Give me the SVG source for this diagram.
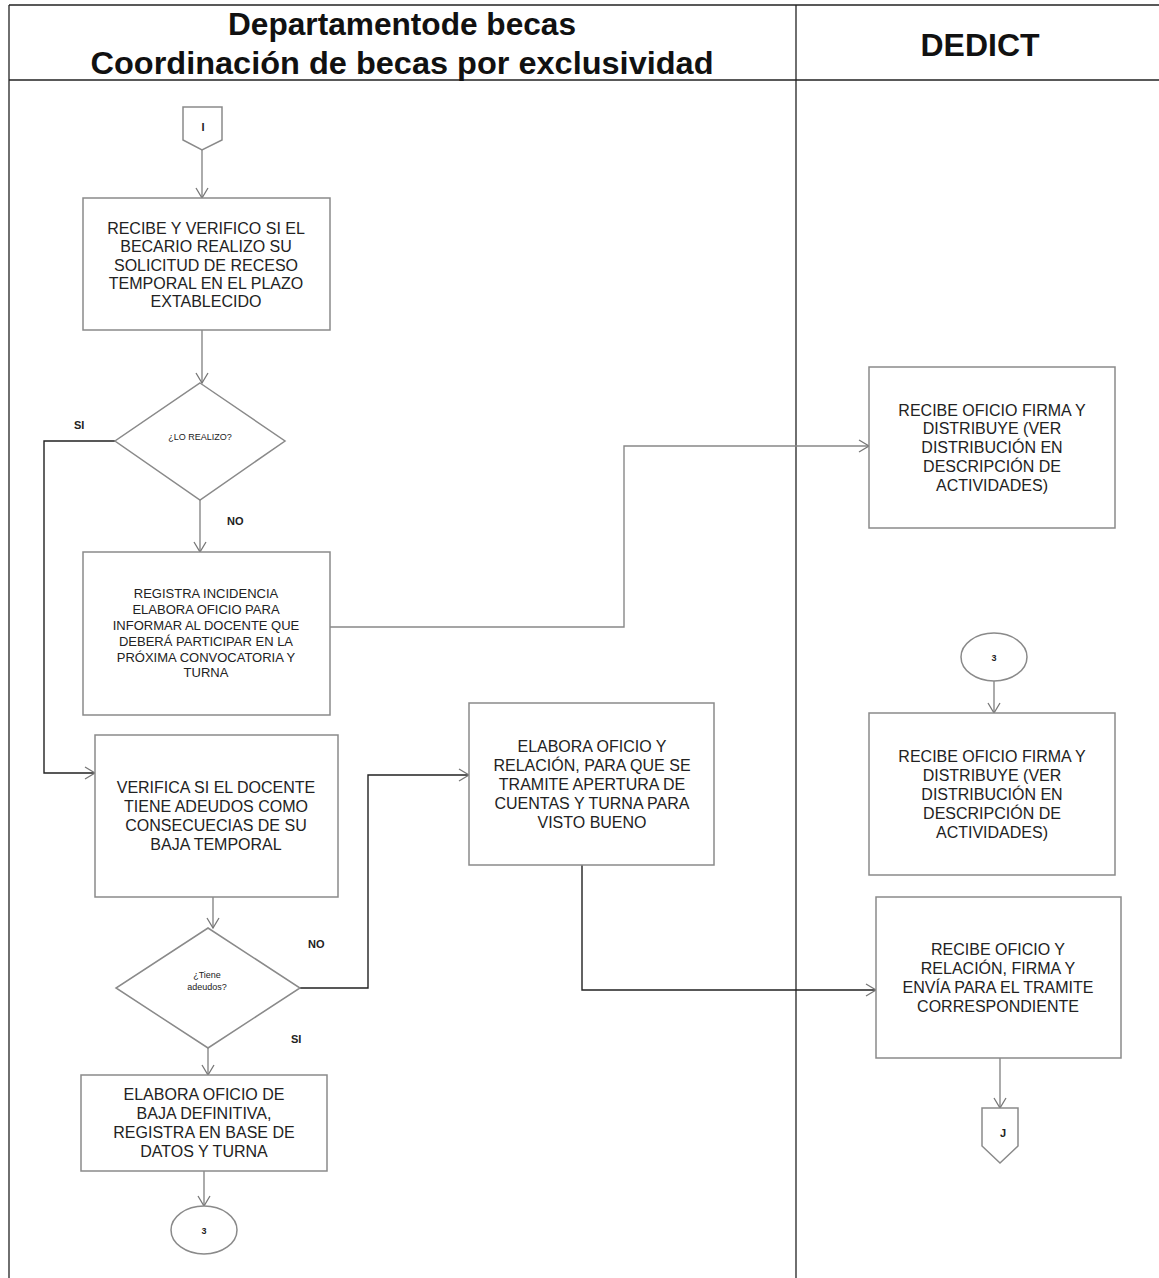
<svg xmlns="http://www.w3.org/2000/svg" width="1159" height="1278" viewBox="0 0 1159 1278">
<style>
.lane{stroke:#222;stroke-width:1.3;fill:none}
.box{fill:#fff;stroke:#8a8a8a;stroke-width:1.5}
.t{font-family:"Liberation Sans",Arial,sans-serif;font-size:16px;fill:#222;text-anchor:middle}
.ts{font-family:"Liberation Sans",Arial,sans-serif;font-size:13px;fill:#222;text-anchor:middle}
.tx{font-family:"Liberation Sans",Arial,sans-serif;font-size:9px;fill:#222;text-anchor:middle}
.lbl{font-family:"Liberation Sans",Arial,sans-serif;font-size:11px;font-weight:bold;fill:#222}
.hd{font-family:"Liberation Sans",Arial,sans-serif;font-size:31px;font-weight:bold;fill:#111;text-anchor:middle}
.c{fill:none;stroke:#888;stroke-width:1.4}
.cd{fill:none;stroke:#222;stroke-width:1.4}
</style>
<defs>
<marker id="ah" markerUnits="userSpaceOnUse" markerWidth="14" markerHeight="16" refX="11" refY="7" orient="auto">
<path d="M1,1 L11,7 L1,13" fill="none" stroke="#777" stroke-width="1.3"/>
</marker>
</defs>
<rect width="1159" height="1278" fill="#fff"/>
<g id="lanes">
<line class="lane" x1="9" y1="5" x2="1159" y2="5"/>
<line class="lane" x1="9" y1="80" x2="1159" y2="80"/>
<line class="lane" x1="9" y1="5" x2="9" y2="1278"/>
<line class="lane" x1="796" y1="5" x2="796" y2="1278"/>
<text class="hd" x="402" y="35" textLength="348" lengthAdjust="spacingAndGlyphs">Departamentode becas</text>
<text class="hd" x="402" y="74" textLength="623" lengthAdjust="spacingAndGlyphs">Coordinación de becas por exclusividad</text>
<text class="hd" x="980" y="56" textLength="119" lengthAdjust="spacingAndGlyphs">DEDICT</text>
</g>
<g id="connectors">
<path class="c" d="M202,150 V198" marker-end="url(#ah)"/>
<path class="c" d="M202,330 V383" marker-end="url(#ah)"/>
<path class="cd" d="M115,441 H44 V773 H95" marker-end="url(#ah)"/>
<path class="c" d="M200,500 V552" marker-end="url(#ah)"/>
<path class="c" d="M330,627 H624 V446 H869" marker-end="url(#ah)"/>
<path class="c" d="M213,897 V928" marker-end="url(#ah)"/>
<path class="cd" d="M300,988 H368 V775 H469" marker-end="url(#ah)"/>
<path class="c" d="M208,1048 V1075" marker-end="url(#ah)"/>
<path class="c" d="M204,1171 V1206" marker-end="url(#ah)"/>
<path class="cd" d="M582,865 V990 H876" marker-end="url(#ah)"/>
<path class="c" d="M994,681 V713" marker-end="url(#ah)"/>
<path class="c" d="M1000,1058 V1108" marker-end="url(#ah)"/>
<text class="lbl" x="74" y="429">SI</text>
<text class="lbl" x="227" y="525">NO</text>
<text class="lbl" x="308" y="948">NO</text>
<text class="lbl" x="291" y="1043">SI</text>
</g>
<g id="start">
<path class="box" d="M183,107 H222 V140 L202,150 L183,140 Z"/>
<text class="lbl" x="203" y="131" text-anchor="middle" font-size="12">I</text>
</g>
<g id="box1">
<rect class="box" x="83" y="198" width="247" height="132"/>
<text class="t" x="206" y="234">RECIBE Y VERIFICO SI EL</text>
<text class="t" x="206" y="252">BECARIO REALIZO SU</text>
<text class="t" x="206" y="271">SOLICITUD DE RECESO</text>
<text class="t" x="206" y="289">TEMPORAL EN EL PLAZO</text>
<text class="t" x="206" y="307">EXTABLECIDO</text>
</g>
<g id="dec1">
<path class="box" d="M200,383 L285,441 L200,500 L115,441 Z"/>
<text class="tx" x="200" y="440">¿LO REALIZO?</text>
</g>
<g id="box2">
<rect class="box" x="83" y="552" width="247" height="163"/>
<text class="ts" x="206" y="598">REGISTRA INCIDENCIA</text>
<text class="ts" x="206" y="614">ELABORA OFICIO PARA</text>
<text class="ts" x="206" y="630">INFORMAR AL DOCENTE QUE</text>
<text class="ts" x="206" y="646">DEBERÁ PARTICIPAR EN LA</text>
<text class="ts" x="206" y="662">PRÓXIMA CONVOCATORIA Y</text>
<text class="ts" x="206" y="677">TURNA</text>
</g>
<g id="box3">
<rect class="box" x="95" y="735" width="243" height="162"/>
<text class="t" x="216" y="793">VERIFICA SI EL DOCENTE</text>
<text class="t" x="216" y="812">TIENE ADEUDOS COMO</text>
<text class="t" x="216" y="831">CONSECUECIAS DE SU</text>
<text class="t" x="216" y="850">BAJA TEMPORAL</text>
</g>
<g id="dec2">
<path class="box" d="M208,928 L300,988 L208,1048 L116,988 Z"/>
<text class="tx" x="207" y="978">¿Tiene</text>
<text class="tx" x="207" y="990">adeudos?</text>
</g>
<g id="box6">
<rect class="box" x="81" y="1075" width="246" height="96"/>
<text class="t" x="204" y="1100">ELABORA OFICIO DE</text>
<text class="t" x="204" y="1119">BAJA DEFINITIVA,</text>
<text class="t" x="204" y="1138">REGISTRA EN BASE DE</text>
<text class="t" x="204" y="1157">DATOS Y TURNA</text>
</g>
<g id="conn3a">
<ellipse class="box" cx="204" cy="1230" rx="33" ry="24"/>
<text class="tx" x="204" y="1234" font-weight="bold">3</text>
</g>
<g id="box5">
<rect class="box" x="469" y="703" width="245" height="162"/>
<text class="t" x="592" y="752">ELABORA OFICIO Y</text>
<text class="t" x="592" y="771">RELACIÓN, PARA QUE SE</text>
<text class="t" x="592" y="790">TRAMITE APERTURA DE</text>
<text class="t" x="592" y="809">CUENTAS Y TURNA PARA</text>
<text class="t" x="592" y="828">VISTO BUENO</text>
</g>
<g id="box4">
<rect class="box" x="869" y="367" width="246" height="161"/>
<text class="t" x="992" y="416">RECIBE OFICIO FIRMA Y</text>
<text class="t" x="992" y="434">DISTRIBUYE (VER</text>
<text class="t" x="992" y="453">DISTRIBUCIÓN EN</text>
<text class="t" x="992" y="472">DESCRIPCIÓN DE</text>
<text class="t" x="992" y="491">ACTIVIDADES)</text>
</g>
<g id="conn3b">
<ellipse class="box" cx="994" cy="657" rx="33" ry="24"/>
<text class="tx" x="994" y="661" font-weight="bold">3</text>
</g>
<g id="box8">
<rect class="box" x="869" y="713" width="246" height="162"/>
<text class="t" x="992" y="762">RECIBE OFICIO FIRMA Y</text>
<text class="t" x="992" y="781">DISTRIBUYE (VER</text>
<text class="t" x="992" y="800">DISTRIBUCIÓN EN</text>
<text class="t" x="992" y="819">DESCRIPCIÓN DE</text>
<text class="t" x="992" y="838">ACTIVIDADES)</text>
</g>
<g id="box7">
<rect class="box" x="876" y="897" width="245" height="161"/>
<text class="t" x="998" y="955">RECIBE OFICIO Y</text>
<text class="t" x="998" y="974">RELACIÓN, FIRMA Y</text>
<text class="t" x="998" y="993">ENVÍA PARA EL TRAMITE</text>
<text class="t" x="998" y="1012">CORRESPONDIENTE</text>
</g>
<g id="end">
<path class="box" d="M982,1108 H1018 V1146 L1000,1163 L982,1146 Z"/>
<text class="lbl" x="1003" y="1137" text-anchor="middle" font-size="14">J</text>
</g>
</svg>
